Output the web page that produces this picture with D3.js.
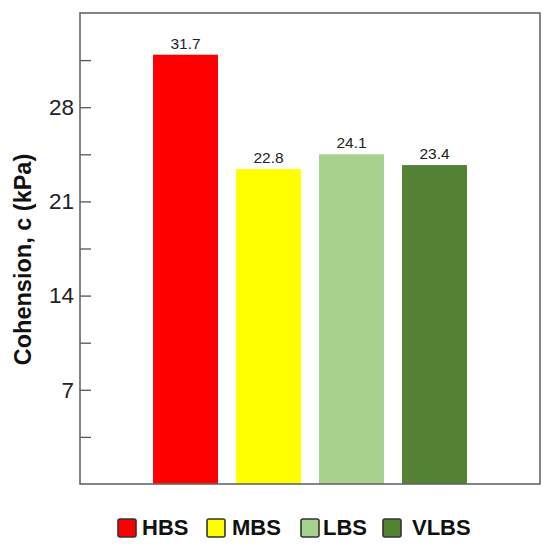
<!DOCTYPE html>
<html>
<head>
<meta charset="utf-8">
<script src="https://cdn.jsdelivr.net/npm/d3@7"></script>
<style>
  body { margin: 0; background: #fff; }
  svg text { font-family: "Liberation Sans", Arial, sans-serif; }
</style>
</head>
<body>
<div id="chart"></div>
<script>
// bar data
const groups = ["HBS", "MBS", "LBS", "VLBS"];
// bar heights as drawn in the figure
const barHeights = [31.9, 23.4, 24.5, 23.7];
// printed value labels
const valueLabels = ["31.7", "22.8", "24.1", "23.4"];
const colors = ["#ff0000", "#ffff00", "#a9d18e", "#548235"];
const majorTicks = [7, 14, 21, 28];
const minorTicks = [3.5, 10.5, 17.5, 24.5, 31.5];

const svgWidth = 550, svgHeight = 547;
const margin = {top: 13, right: 10, bottom: 63, left: 80};
const width = svgWidth - margin.left - margin.right;
const height = svgHeight - margin.top - margin.bottom;

const svg = d3.select("#chart").append("svg")
  .attr("width", svgWidth).attr("height", svgHeight);

const g = svg.append("g").attr("transform", `translate(${margin.left},${margin.top})`);

const x = d3.scaleBand().domain(groups).range([0, width])
  .paddingInner(0.217).paddingOuter(0.88);
const y = d3.scaleLinear().domain([0, 35]).range([height, 0]);

// bars
g.selectAll("rect.bar").data(groups).join("rect")
  .attr("class", "bar")
  .attr("x", d => x(d))
  .attr("width", x.bandwidth())
  .attr("y", (d, i) => y(barHeights[i]))
  .attr("height", (d, i) => height - y(barHeights[i]))
  .attr("fill", (d, i) => colors[i]);

// value labels
g.selectAll("text.val").data(groups).join("text")
  .attr("class", "val")
  .attr("x", d => x(d) + x.bandwidth() / 2)
  .attr("y", (d, i) => y(barHeights[i]) - 6)
  .attr("text-anchor", "middle")
  .attr("font-size", 15.5)
  .attr("fill", "#222")
  .text((d, i) => valueLabels[i]);

// y axis, ticks pointing inward
const yAxis = g.append("g")
  .call(d3.axisLeft(y).tickValues(majorTicks).tickSize(-11).tickPadding(6));
yAxis.select(".domain").remove();
yAxis.selectAll(".tick line").attr("stroke", "#555").attr("stroke-width", 1.3);
yAxis.selectAll(".tick text").attr("font-size", 22.5).attr("fill", "#222")
  .attr("font-family", "Liberation Sans, Arial, sans-serif");

const yMinor = g.append("g")
  .call(d3.axisLeft(y).tickValues(minorTicks).tickSize(-11).tickFormat(""));
yMinor.select(".domain").remove();
yMinor.selectAll(".tick line").attr("stroke", "#555").attr("stroke-width", 1.3);

// frame
g.append("rect")
  .attr("width", width).attr("height", height)
  .attr("fill", "none").attr("stroke", "#666").attr("stroke-width", 1.6);

// y label
svg.append("text")
  .attr("transform", `translate(31, 259.5) rotate(-90)`)
  .attr("text-anchor", "middle")
  .attr("font-size", 23.5).attr("font-weight", "bold").attr("fill", "#111")
  .text("Cohension, c (kPa)");

// legend
const legendX = [118, 207, 301, 383];
const textX = [142, 232, 323, 412];
const legend = svg.append("g");
groups.forEach(function(name, i) {
  legend.append("rect")
    .attr("x", legendX[i]).attr("y", 519)
    .attr("width", 18).attr("height", 18).attr("rx", 2)
    .attr("fill", colors[i]).attr("stroke", "#333").attr("stroke-width", 1.6);
  legend.append("text")
    .attr("x", textX[i]).attr("y", 535)
    .attr("font-size", 22).attr("font-weight", "bold").attr("fill", "#111")
    .text(name);
});
</script>
</body>
</html>
